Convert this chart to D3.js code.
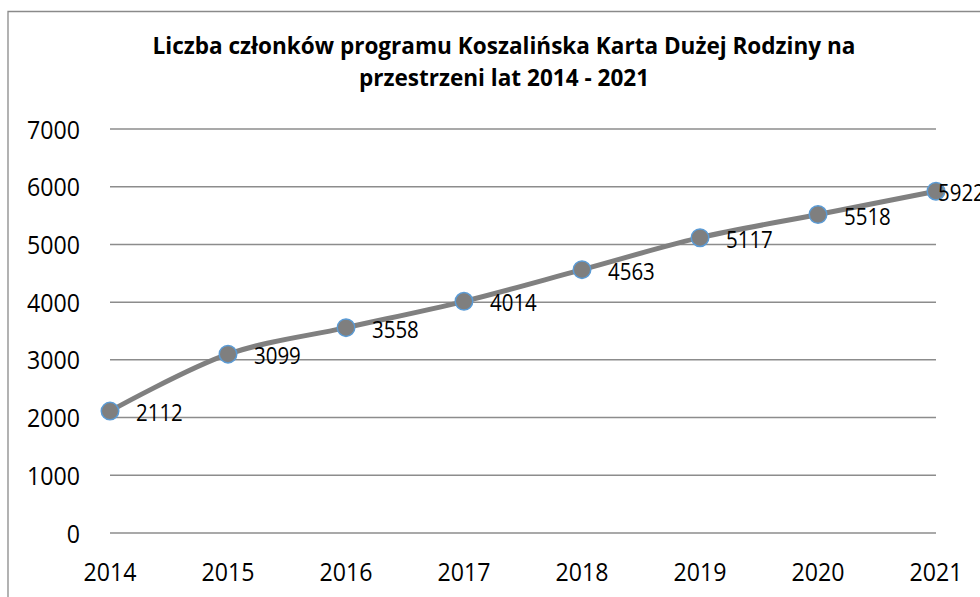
<!DOCTYPE html>
<html>
<head>
<meta charset="utf-8">
<script src="https://cdn.jsdelivr.net/npm/d3@7"></script>
<style>
  body { margin: 0; background: #fff; }
  svg { display: block; font-family: "Open Sans", "Noto Sans", sans-serif; }
</style>
</head>
<body>
<div id="chart"></div>
<script>
const years = ['2014', '2015', '2016', '2017', '2018', '2019', '2020', '2021'];
const members = [2112, 3099, 3558, 4014, 4563, 5117, 5518, 5922];
const yTicks = [0, 1000, 2000, 3000, 4000, 5000, 6000, 7000];
const titleLines = ['Liczba członków programu Koszalińska Karta Dużej Rodziny na', 'przestrzeni lat 2014 - 2021'];

const width = 980;
const height = 597;
const margin = { top: 129, right: 44, bottom: 64, left: 110 };
// the source text is a bit narrower than Open Sans, squeeze it horizontally
const sxNum = 0.89;
const sxTitle = 0.94;

const svg = d3.select('#chart').append('svg')
  .attr('width', width)
  .attr('height', height);

// chart frame (cut off at right and bottom like the source)
svg.append('path')
  .attr('d', `M8,${height + 2} L8,11.5 L${width + 2},11.5`)
  .attr('fill', 'none')
  .attr('stroke', '#8a8a8a')
  .attr('stroke-width', 1.3);

const x = d3.scalePoint()
  .domain(years)
  .range([margin.left, width - margin.right]);

const y = d3.scaleLinear()
  .domain([0, 7000])
  .range([height - margin.bottom, margin.top]);

// gridlines
svg.append('g')
  .selectAll('line')
  .data(yTicks)
  .enter().append('line')
  .attr('x1', margin.left)
  .attr('x2', width - margin.right)
  .attr('y1', d => y(d))
  .attr('y2', d => y(d))
  .attr('stroke', '#8c8c8c')
  .attr('stroke-width', 1.5);

// y axis labels
svg.append('g')
  .selectAll('text')
  .data(yTicks)
  .enter().append('text')
  .attr('transform', d => `translate(80,${y(d) + 9.5}) scale(${sxNum},1)`)
  .attr('text-anchor', 'end')
  .style('font-size', '26px')
  .attr('fill', '#000')
  .text(d => d);

// x axis labels
svg.append('g')
  .selectAll('text')
  .data(years)
  .enter().append('text')
  .attr('transform', d => `translate(${x(d)},581) scale(${sxNum},1)`)
  .attr('text-anchor', 'middle')
  .style('font-size', '26px')
  .attr('fill', '#000')
  .text(d => d);

// title
svg.append('g')
  .selectAll('text')
  .data(titleLines)
  .enter().append('text')
  .attr('transform', (d, i) => `translate(504,${54 + i * 32}) scale(${sxTitle},1)`)
  .attr('text-anchor', 'middle')
  .style('font-size', '24px')
  .style('font-weight', 'bold')
  .attr('fill', '#000')
  .text(d => d);

const points = years.map((yr, i) => ({ year: yr, value: members[i] }));

const line = d3.line()
  .x(d => x(d.year))
  .y(d => y(d.value))
  .curve(d3.curveCatmullRom.alpha(0.5));

svg.append('path')
  .datum(points)
  .attr('d', line)
  .attr('fill', 'none')
  .attr('stroke', '#808080')
  .attr('stroke-width', 5)
  .attr('stroke-linejoin', 'round');

svg.append('g')
  .selectAll('circle')
  .data(points)
  .enter().append('circle')
  .attr('cx', d => x(d.year))
  .attr('cy', d => y(d.value))
  .attr('r', 8.75)
  .attr('fill', '#7f7f7f')
  .attr('stroke', '#5b9bd5')
  .attr('stroke-width', 1.5);

// data labels (last one pushed left to stay in the plot, as Excel does)
const last = points.length - 1;
svg.append('g')
  .selectAll('text')
  .data(points)
  .enter().append('text')
  .attr('transform', (d, i) => {
    const lx = x(d.year) + (i === last ? 2 : 26);
    const ly = y(d.value) + 10;
    return `translate(${lx},${ly}) scale(${sxNum},1)`;
  })
  .style('font-size', '23px')
  .attr('fill', '#000')
  .text(d => d.value);
</script>
</body>
</html>
